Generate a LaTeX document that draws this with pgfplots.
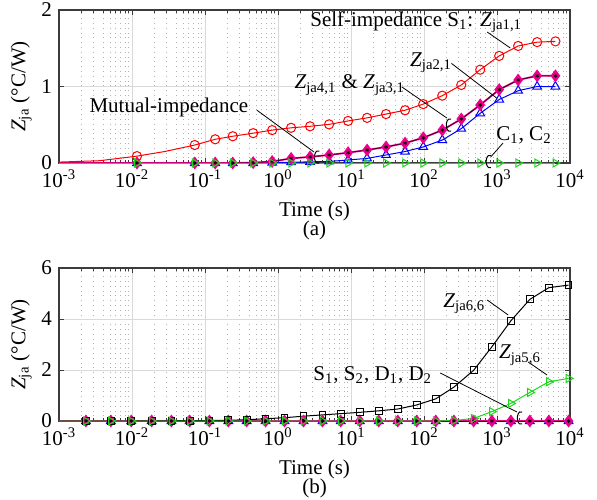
\documentclass[border=0pt]{standalone}
\usepackage{fontspec}
\setmainfont{Liberation Serif}
\usepackage{pgfplots}
\pgfplotsset{compat=1.18}

\definecolor{mgreen}{RGB}{25,215,25}
\definecolor{axgray}{RGB}{60,60,60}

\newcommand{\Zsub}[1]{\textit{Z}\textsubscript{#1}}

\pgfplotsset{
  impaxis/.style={
    scale only axis, width=255.5pt, height=76.5pt,
    xmin=1e-3, xmax=1e4,
    xtick={1e-3,1e-2,1e-1,1,1e1,1e2,1e3,1e4},
    xticklabels={10\textsuperscript{-3},10\textsuperscript{-2},10\textsuperscript{-1},10\textsuperscript{0},
                 10\textsuperscript{1},10\textsuperscript{2},10\textsuperscript{3},10\textsuperscript{4}},
    tick align=inside,
    axis line style={axgray, line width=0.6pt},
    tick style={axgray, line width=0.4pt},
    major tick length=2.5pt, minor tick length=1.5pt,
    xmajorgrids, ymajorgrids, xminorgrids,
    major grid style={gray!30, line width=0.4pt},
    minor grid style={gray!60, dotted, line width=0.4pt},
    font=\fontsize{10.5}{12}\selectfont,
    xlabel={Time (s)},
    ylabel={\Zsub{ja} (°C/W)},
    ylabel shift=-2pt,
    clip=false,
    every axis plot/.append style={line width=0.5pt},
  },
  redc/.style={red, mark=o, mark size=2.3pt},
  bluet/.style={blue, mark=triangle, mark size=2.5pt},
  magd/.style={magenta, line width=0.9pt, mark=diamond*, mark size=2.5pt, mark options={fill=magenta, draw=magenta}},
  blka/.style={black, line width=0.25pt, mark=asterisk, mark size=1pt, mark options={line width=0.3pt}},
  grnt/.style={mgreen, mark=triangle, mark size=2.3pt, mark options={rotate=-90}},
  blks/.style={black, mark=square, mark size=1.7pt},
}
\newcommand{\curl}[1]{\draw[black, line width=0.5pt] #1 ++(0.6pt,3pt) arc[start angle=70, end angle=290, x radius=1.8pt, y radius=3.2pt];}

\begin{document}
\begin{tikzpicture}
\useasboundingbox (-29.5pt,5pt) rectangle (269pt,-244.5pt);

% (a) impedances seen from S1
\begin{semilogxaxis}[impaxis, at={(0,0)}, anchor=north west,
  ymin=0, ymax=2, ytick={0,1,2}, yticklabels={0,1,2}]
\addplot[bluet, mark indices={2,3,4,5,6,7,8,9,10,11,12,13,14,15,16,17,18,19,20,21,22}] coordinates {
 (0.001,0) (0.0117,0) (0.0724,0) (0.138,0) (0.240,0) (0.457,0) (0.832,0.005) (1.51,0.01)
 (2.75,0.015) (5.01,0.02) (9.12,0.04) (16.6,0.06) (30.2,0.105) (55.0,0.15) (97.7,0.21)
 (178,0.30) (324,0.45) (589,0.65) (1072,0.83) (1950,0.945) (3548,1.00) (6310,1.00)};
\addplot[magd, mark indices={2,3,4,5,6,7,8,9,10,11,12,13,14,15,16,17,18,19,20,21,22}] coordinates {
 (0.001,0) (0.0117,0) (0.0724,0) (0.138,0) (0.240,0) (0.457,0.005) (0.832,0.02) (1.51,0.06)
 (2.75,0.08) (5.01,0.105) (9.12,0.135) (16.6,0.17) (30.2,0.21) (55.0,0.26) (97.7,0.33)
 (178,0.43) (324,0.575) (589,0.76) (1072,0.96) (1950,1.085) (3548,1.14) (6310,1.14)};
\addplot[blka, mark indices={2,3,4,5,6,7,8,9,10,11,12,13,14,15,16,17,18,19,20,21,22}] coordinates {
 (0.001,0) (0.0117,0) (0.0724,0) (0.138,0) (0.240,0) (0.457,0.005) (0.832,0.02) (1.51,0.06)
 (2.75,0.08) (5.01,0.105) (9.12,0.135) (16.6,0.17) (30.2,0.21) (55.0,0.26) (97.7,0.33)
 (178,0.43) (324,0.575) (589,0.76) (1072,0.96) (1950,1.085) (3548,1.14) (6310,1.14)};
\addplot[redc, mark indices={3,5,6,7,8,9,10,11,12,13,14,15,16,17,18,19,20,21,22,23,24}] coordinates {
 (0.001,0.012) (0.0036,0.03) (0.0117,0.09) (0.028,0.15) (0.0724,0.235) (0.138,0.31) (0.240,0.35)
 (0.457,0.39) (0.832,0.43) (1.51,0.46) (2.75,0.48) (5.01,0.505) (9.12,0.55) (16.6,0.59)
 (30.2,0.64) (55.0,0.69) (97.7,0.77) (178,0.88) (324,1.02) (589,1.22) (1072,1.40)
 (1950,1.53) (3548,1.58) (6310,1.59)};
\addplot[grnt, mark indices={2,3,4,5,6,7,8,9,10,11,12,13,14,15,16,17,18,19,20,21,22}] coordinates {
 (0.001,0) (0.0117,0) (0.0724,0) (0.138,0) (0.240,0) (0.457,0) (0.832,0) (1.51,0)
 (2.75,0) (5.01,0) (9.12,0) (16.6,0) (30.2,0) (55.0,0) (97.7,0)
 (178,0) (324,0) (589,0) (1072,0) (1950,0) (3548,0) (6310,0)};

\node at (rel axis cs:0.699,0.922) {Self-impedance S\textsubscript{1}: \Zsub{ja1,1}};
\draw[black, line width=0.4pt] (rel axis cs:0.838,0.856) -- (rel axis cs:0.883,0.752);
\node at (rel axis cs:0.728,0.654) {\Zsub{ja2,1}};
\draw[black, line width=0.4pt] (rel axis cs:0.768,0.651) -- (rel axis cs:0.857,0.423);
\node at (rel axis cs:0.569,0.510) {\Zsub{ja4,1} \& \Zsub{ja3,1}};
\draw[black, line width=0.4pt] (rel axis cs:0.671,0.497) -- (rel axis cs:0.759,0.294);
\curl{(rel axis cs:0.765,0.248)}
\node at (rel axis cs:0.215,0.366) {Mutual-impedance};
\draw[black, line width=0.4pt] (rel axis cs:0.387,0.346) -- (rel axis cs:0.499,0.072);
\curl{(rel axis cs:0.507,0.039)}
\node at (rel axis cs:0.910,0.183) {C\textsubscript{1}, C\textsubscript{2}};
\draw[black, line width=0.4pt] (rel axis cs:0.869,0.131) -- (rel axis cs:0.845,0.040);
\curl{(rel axis cs:0.843,0.010)}
\node at (rel axis cs:0.5,-0.44) {(a)};
\end{semilogxaxis}

% (b) impedances seen from C2
\begin{semilogxaxis}[impaxis, at={(0,-129pt)}, anchor=north west,
  ymin=0, ymax=6, ytick={0,2,4,6}, yticklabels={0,2,4,6}]
\addplot[bluet, mark indices={2,3,4,5,6,7,8,9,10,11,12,13,14,15,16,17,18,19,20,21,22,23,24,25,26,27}] coordinates {
 (0.001,0) (0.00234,0) (0.00513,0) (0.00977,0) (0.0186,0) (0.0347,0) (0.0617,0) (0.115,0)
 (0.209,0) (0.372,0) (0.676,0) (1.23,0) (2.24,0) (4.07,0) (7.24,0) (13.2,0) (24.0,0)
 (43.7,0) (79.4,0) (145,0) (257,0) (479,0) (851,0) (1549,0) (2818,0) (5129,0) (9550,0)};
\addplot[magd, mark indices={2,3,4,5,6,7,8,9,10,11,12,13,14,15,16,17,18,19,20,21,22,23,24,25,26,27}] coordinates {
 (0.001,0) (0.00234,0) (0.00513,0) (0.00977,0) (0.0186,0) (0.0347,0) (0.0617,0) (0.115,0)
 (0.209,0) (0.372,0) (0.676,0) (1.23,0) (2.24,0) (4.07,0) (7.24,0) (13.2,0) (24.0,0)
 (43.7,0) (79.4,0) (145,0) (257,0) (479,0) (851,0) (1549,0) (2818,0) (5129,0) (9550,0)};
\addplot[blka, mark indices={2,3,4,5,6,7,8,9,10,11,12,13,14,15,16,17,18,19,20,21,22,23,24,25,26,27}] coordinates {
 (0.001,0) (0.00234,0) (0.00513,0) (0.00977,0) (0.0186,0) (0.0347,0) (0.0617,0) (0.115,0)
 (0.209,0) (0.372,0) (0.676,0) (1.23,0) (2.24,0) (4.07,0) (7.24,0) (13.2,0) (24.0,0)
 (43.7,0) (79.4,0) (145,0) (257,0) (479,0) (851,0) (1549,0) (2818,0) (5129,0) (9550,0)};
\addplot[blks, mark indices={2,3,4,5,6,7,8,9,10,11,12,13,14,15,16,17,18,19,20,21,22,23,24,25,26,27}] coordinates {
 (0.001,0) (0.00234,0) (0.00513,0) (0.00977,0) (0.0186,0.005) (0.0347,0.01) (0.0617,0.015) (0.115,0.02)
 (0.209,0.03) (0.372,0.05) (0.676,0.09) (1.23,0.13) (2.24,0.19) (4.07,0.24) (7.24,0.29) (13.2,0.34) (24.0,0.40)
 (43.7,0.47) (79.4,0.63) (145,0.87) (257,1.33) (479,1.99) (851,2.91) (1549,3.93) (2818,4.77) (5129,5.23) (9550,5.33)};
\addplot[grnt, mark indices={2,3,4,5,6,7,8,9,10,11,12,13,14,15,16,17,18,19,20,21,22,23,24,25,26,27}] coordinates {
 (0.001,0) (0.00234,0) (0.00513,0) (0.00977,0) (0.0186,0) (0.0347,0) (0.0617,0) (0.115,0)
 (0.209,0) (0.372,0) (0.676,0) (1.23,0) (2.24,0) (4.07,0) (7.24,0) (13.2,0) (24.0,0)
 (43.7,0) (79.4,0) (145,0) (257,0.02) (479,0.10) (851,0.37) (1549,0.69) (2818,1.12) (5129,1.54) (9550,1.67)};

\node at (rel axis cs:0.793,0.765) {\Zsub{ja6,6}};
\draw[black, line width=0.4pt] (rel axis cs:0.838,0.791) -- (rel axis cs:0.879,0.693);
\node at (rel axis cs:0.902,0.431) {\Zsub{ja5,6}};
\draw[black, line width=0.4pt] (rel axis cs:0.918,0.386) -- (rel axis cs:0.955,0.301);
\node at (rel axis cs:0.614,0.301) {S\textsubscript{1}, S\textsubscript{2}, D\textsubscript{1}, D\textsubscript{2}};
\draw[black, line width=0.4pt] (rel axis cs:0.746,0.314) -- (rel axis cs:0.896,0.059);
\curl{(rel axis cs:0.904,0.020)}
\node at (rel axis cs:0.5,-0.438) {(b)};
\end{semilogxaxis}
\end{tikzpicture}
\end{document}
